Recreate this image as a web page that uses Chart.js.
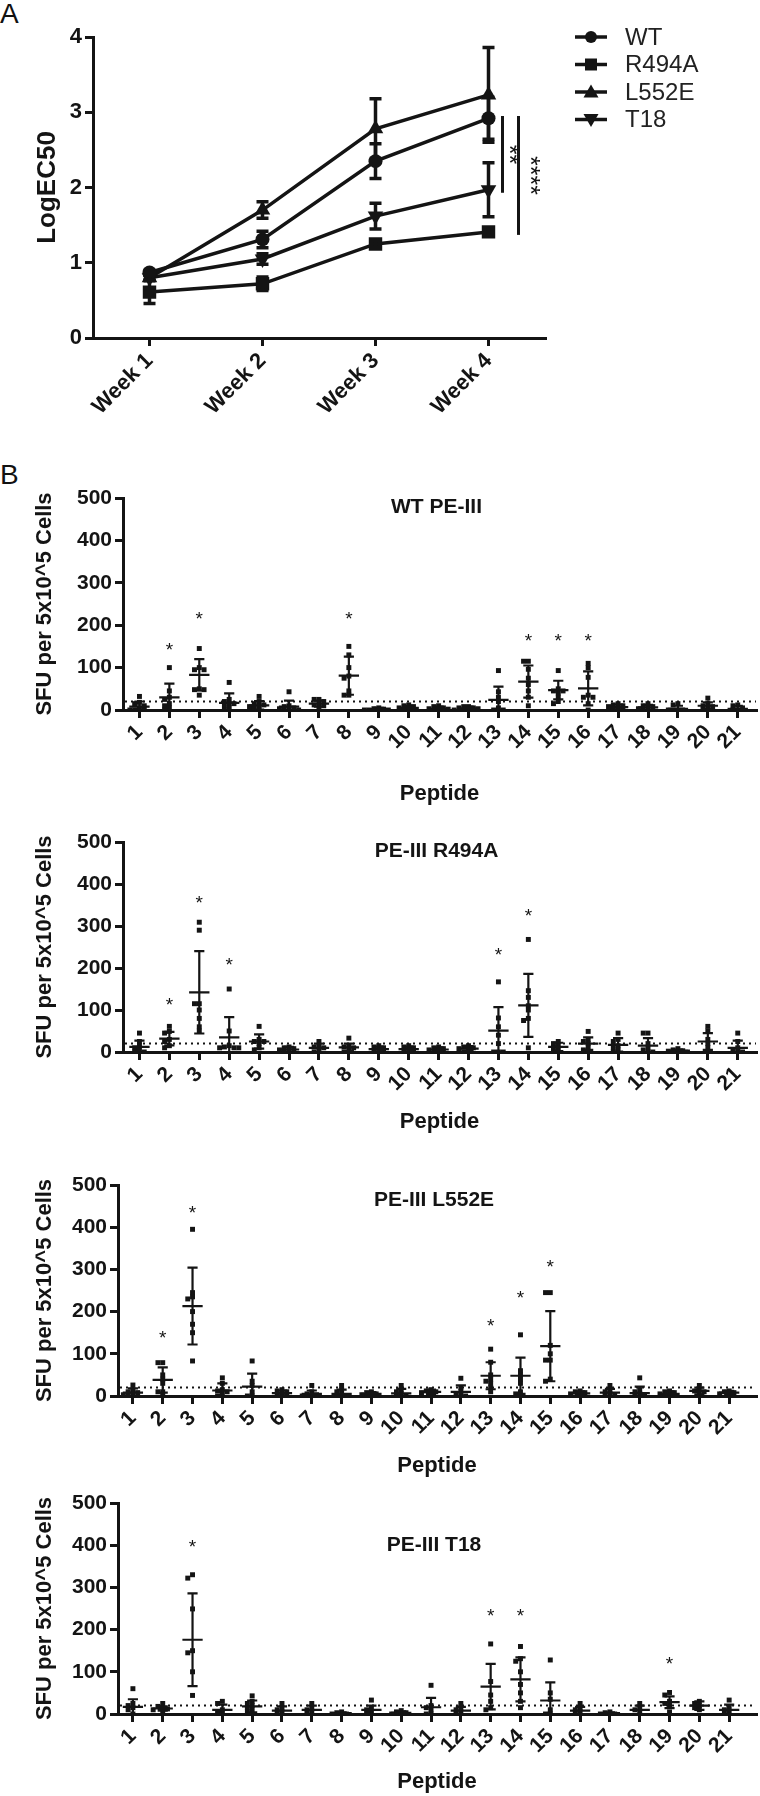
<!DOCTYPE html>
<html><head><meta charset="utf-8">
<script src="https://cdn.jsdelivr.net/npm/chart.js@4.4.1/dist/chart.umd.min.js"></script>
<style>
html,body{margin:0;padding:0;background:#fff;}
body{width:760px;height:1796px;position:relative;overflow:hidden;font-family:"Liberation Sans",Arial,Helvetica,sans-serif;}
.box{position:absolute;left:0;width:760px;}
.box canvas{display:block;}
.panel{position:absolute;font-size:28px;line-height:28px;color:#111;}
</style></head><body>
<div class="panel" style="left:0;top:0">A</div>
<div class="panel" style="left:0;top:461px">B</div>
<div class="box" id="bxA"><canvas id="cA"></canvas></div>
<div class="box" id="bxWT"><canvas id="cWT"></canvas></div>
<div class="box" id="bxR"><canvas id="cR"></canvas></div>
<div class="box" id="bxL"><canvas id="cL"></canvas></div>
<div class="box" id="bxT"><canvas id="cT"></canvas></div>
<script>
// ---------------- Panel A data ----------------
const weeks = ['Week 1','Week 2','Week 3','Week 4'];
const seriesNames = ['WT','R494A','L552E','T18'];
const wtEC50Mean    = [0.87, 1.31, 2.35, 2.92];
const wtEC50SD      = [0.03, 0.11, 0.23, 0.28];
const r494aEC50Mean = [0.61, 0.72, 1.25, 1.41];
const r494aEC50SD   = [0.15, 0.09, 0.04, 0.04];
const l552eEC50Mean = [0.80, 1.70, 2.78, 3.23];
const l552eEC50SD   = [0.03, 0.11, 0.40, 0.63];
const t18EC50Mean   = [0.80, 1.05, 1.62, 1.97];
const t18EC50SD     = [0.03, 0.07, 0.17, 0.36];
const sigTop    = [2.95, 2.95];
const sigBottom = [1.93, 1.37];
const sigLabels = ['**', '****'];

// ---------------- Panel B data ----------------
const peptides = [1,2,3,4,5,6,7,8,9,10,11,12,13,14,15,16,17,18,19,20,21];
const cutoff = 20;

const wtPoints = [
 [32,18,15,10,5,0,0,0],[100,45,30,25,15,10,5,0],[145,100,95,95,50,48,48,35],[65,25,20,15,15,10,5,0],
 [32,20,15,12,10,8,5,0],[43,10,8,5,3,0,0],[25,25,20,15,12,10,5],[150,130,100,80,75,45,35,35],
 [5,3,2,0,0,0],[12,10,8,5,3,0],[10,8,5,3,2,0],[8,8,5,5,3,0],[93,43,30,20,5,0,0],
 [115,115,96,75,60,45,30,10],[93,50,45,45,40,30,20,15],[110,100,77,35,30,30,15,0],
 [15,12,10,8,5,3,0],[15,10,8,5,3,0],[15,12,0,0,0,0],[28,15,10,8,5,0],[12,10,5,0,0]];
const wtMean = [8,30,83,17,11,8,15,81,2,5,3,4,24,67,47,51,7,6,3,10,3];
const wtSD   = [12,32,37,22,10,14,7,45,3,5,5,4,31,38,22,40,6,6,7,8,7];
const wtStarPeptides = [2,3,8,14,15,16];
const wtStarY        = [146,220,220,169,169,169];

const r494aPoints = [
 [45,25,15,10,5,0,0],[61,49,45,30,25,15,10],[309,290,115,115,100,80,60,50],[150,50,15,12,10,10,10],
 [61,30,25,25,20,10,5],[12,10,8,5,3,0],[25,15,12,10,5,0],[33,15,12,10,5,0],[15,12,10,5,3,0],
 [15,12,10,5,3,0],[12,10,8,5,3,0],[15,12,10,8,5,0],[167,81,60,40,20,0,0,0],
 [268,146,130,110,100,80,75,10],[25,20,15,10,5,0],[49,30,25,20,10,5,0],[45,30,25,15,10,5,0],
 [45,45,20,10,5,0,0],[8,5,3,2,0],[61,50,30,20,10,0],[45,25,10,5,0,0]];
const r494aMean = [12,32,142,35,25,6,10,11,7,7,6,8,51,111,12,20,17,15,3,25,10];
const r494aSD   = [15,16,98,48,17,6,10,9,6,6,5,6,56,75,10,15,16,18,3,20,17];
const r494aStarPeptides = [2,3,4,13,14];
const r494aStarY        = [118,361,213,237,328];

const l552ePoints = [
 [26,15,10,8,5,3,0],[79,79,50,40,30,10,10,0],[395,245,235,230,200,170,150,83],[43,30,15,12,10,5,0],
 [83,35,25,10,0,0],[15,12,10,5,3,0],[25,10,5,3,0,0],[25,15,10,5,0],[10,8,5,3,0],[25,15,10,5,0,0],
 [15,12,10,8,5],[42,20,10,5,0,0],[111,80,50,40,35,30,20,10],[145,60,50,40,30,10,5,0],
 [245,245,120,100,85,85,40,35],[12,10,8,5,0],[25,15,10,5,3,0],[43,15,10,5,0,0],[12,10,8,5,0],
 [25,15,12,10,5],[12,10,8,5,3]];
const l552eMean = [8,38,213,13,22,7,5,5,5,6,10,10,48,48,118,6,8,7,5,12,8];
const l552eSD   = [10,30,91,17,31,6,8,10,4,11,5,15,32,43,83,5,9,15,6,8,4];
const l552eStarPeptides = [2,3,13,14,15];
const l552eStarY        = [142,439,171,238,312];

const t18Points = [
 [60,25,20,15,10,0],[25,18,15,12,10,5],[330,322,249,150,145,100,44],[30,25,10,5,0],
 [43,30,25,20,15,10,5],[25,15,10,5,0],[25,15,10,5,0],[5,3,0,0],[33,15,10,5,0],[8,5,3,0],
 [68,20,15,10,0,0],[25,15,10,5,0],[166,77,45,30,15,10],[160,131,125,100,70,50,30,15],
 [128,50,35,10,0,0],[25,15,10,5,0],[5,3,0,0],[25,15,10,5],[51,45,30,25,20,5],[30,25,20,15,10],
 [33,15,10,5,0]];
const t18Mean = [17,13,176,10,18,8,10,2,10,3,16,8,65,82,32,8,2,10,28,20,10];
const t18SD   = [18,5,110,12,14,10,10,2,10,3,22,9,54,52,43,9,2,10,14,10,12];
const t18StarPeptides = [3,13,14,19];
const t18StarY        = [401,237,237,123];

const bTitles = ['WT PE-III','PE-III R494A','PE-III L552E','PE-III T18'];
const bTitleY = [478, 479, 464, 400];

// ---------------- Styles ----------------
const FONT = '"Liberation Sans", Arial, Helvetica, sans-serif';
const INK = '#141414';
Chart.defaults.font.family = FONT;
Chart.defaults.color = INK;
Chart.defaults.animation = false;

function setupCanvas(boxId, canvasId, top, height){
  const b = document.getElementById(boxId);
  b.style.top = top + 'px'; b.style.height = height + 'px';
  const c = document.getElementById(canvasId);
  c.width = 760; c.height = height;
  c.style.width = '760px'; c.style.height = height + 'px';
  return c;
}

// ---------------- Panel A ----------------
(function(){
  const H = 420, chartTop = 37, chartBottom = 338, axisLeft = 93, chartRight = 545;
  const canvas = setupCanvas('bxA','cA',0,H);
  const means = [wtEC50Mean, r494aEC50Mean, l552eEC50Mean, t18EC50Mean];
  const sds = [wtEC50SD, r494aEC50SD, l552eEC50SD, t18EC50SD];
  const styles = [
    {ps:'circle', r:7, rot:0, leg:'circle'},
    {ps:'rect', r:9.5, rot:0, leg:'square'},
    {ps:'triangle', r:9, rot:0, leg:'up'},
    {ps:'triangle', r:9, rot:180, leg:'down'}];
  const datasets = seriesNames.map((n,i)=>({
    label:n, data:means[i], sd:sds[i], borderColor:INK, backgroundColor:INK, borderWidth:3.5,
    pointStyle:styles[i].ps, pointRadius:styles[i].r, pointRotation:styles[i].rot,
    pointBorderWidth:0, pointBackgroundColor:INK, tension:0, fill:false
  }));
  function marker(ctx, kind, x, y){
    ctx.beginPath();
    if(kind==='circle'){ ctx.arc(x,y,6,0,Math.PI*2); }
    else if(kind==='square'){ ctx.rect(x-6,y-6,12,12); }
    else if(kind==='up'){ ctx.moveTo(x,y-7.5); ctx.lineTo(x+7.5,y+5.5); ctx.lineTo(x-7.5,y+5.5); ctx.closePath(); }
    else { ctx.moveTo(x,y+7.5); ctx.lineTo(x+7.5,y-5.5); ctx.lineTo(x-7.5,y-5.5); ctx.closePath(); }
    ctx.fill();
  }
  const extras = {id:'aExtras', afterDatasetsDraw(chart){
    const {ctx, scales:{x,y}} = chart;
    ctx.save();
    ctx.strokeStyle = INK; ctx.fillStyle = INK; ctx.lineWidth = 3.5;
    chart.data.datasets.forEach(ds=>{
      ds.data.forEach((m,i)=>{
        const s = ds.sd[i]; const px = x.getPixelForValue(i);
        const y1 = y.getPixelForValue(m+s), y0 = y.getPixelForValue(m-s);
        ctx.beginPath();
        ctx.moveTo(px,y1); ctx.lineTo(px,y0);
        ctx.moveTo(px-6,y1); ctx.lineTo(px+6,y1);
        ctx.moveTo(px-6,y0); ctx.lineTo(px+6,y0);
        ctx.stroke();
      });
    });
    // significance bars
    const lastX = x.getPixelForValue(weeks.length-1);
    sigLabels.forEach((lab,k)=>{
      const lx = lastX + 14 + k*16;
      ctx.lineWidth = 3;
      ctx.beginPath();
      ctx.moveTo(lx, y.getPixelForValue(sigTop[k]));
      ctx.lineTo(lx, y.getPixelForValue(sigBottom[k]));
      ctx.stroke();
      const ty = y.getPixelForValue((sigTop[k]+sigBottom[k])/2);
      ctx.save();
      ctx.translate(lx + (k===0?5:10), ty);
      ctx.rotate(Math.PI/2);
      ctx.font = '25px ' + FONT; ctx.textAlign='center'; ctx.textBaseline='middle';
      ctx.fillText(lab, 0, 0);
      ctx.restore();
    });
    // legend
    ctx.lineWidth = 3.5;
    ctx.font = '24px ' + FONT; ctx.textAlign='left'; ctx.textBaseline='middle';
    seriesNames.forEach((n,i)=>{
      const ly = 37 + i*27.5;
      ctx.beginPath(); ctx.moveTo(575,ly); ctx.lineTo(607,ly); ctx.stroke();
      marker(ctx, styles[i].leg, 591, ly);
      ctx.fillStyle = '#222';
      ctx.fillText(n, 625, ly+1);
      ctx.fillStyle = INK;
    });
    ctx.restore();
  }};
  new Chart(canvas, {
    type:'line',
    data:{labels:weeks, datasets},
    options:{
      responsive:false, animation:false,
      layout:{padding:{top:chartTop, right:760-chartRight, left:0, bottom:0}},
      plugins:{legend:{display:false}, tooltip:{enabled:false}},
      scales:{
        x:{type:'category', offset:true,
           grid:{drawOnChartArea:false, color:INK, lineWidth:3, tickLength:8, offset:false},
           border:{display:true, color:INK, width:3},
           ticks:{autoSkip:false, minRotation:45, maxRotation:45, padding:2, color:INK,
                  font:{family:FONT, size:22, weight:'bold'}},
           afterFit(s){ s.height = H - chartBottom; }},
        y:{min:0, max:4, ticks:{stepSize:1, padding:3, color:INK, font:{family:FONT, size:22, weight:'bold'}},
           grid:{drawOnChartArea:false, color:INK, lineWidth:3, tickLength:8},
           border:{display:true, color:INK, width:3},
           title:{display:true, text:'LogEC50', color:INK, padding:{top:32,bottom:0},
                  font:{family:FONT, size:26, weight:'bold'}},
           afterFit(s){ s.width = axisLeft; }}
      }
    },
    plugins:[extras]
  });
})();

// ---------------- Panel B ----------------
function spread(vals){
  const placed = [], out = [];
  const sorted = vals.slice().sort((a,b)=>b-a);
  const seq = [0,-1,1,-2,2,-3,3];
  sorted.forEach(v=>{
    let k = 0;
    for(const s of seq){
      if(!placed.some(q=>q.s===s && Math.abs(q.v-v)<9)){ k = s; break; }
    }
    placed.push({s:k, v}); out.push({off:k, v});
  });
  return out;
}

function makeB(cfg){
  const {boxId, canvasId, canvasTop, chartTop, chartBottom, titleCenter, axisLeft, xMin, xMax,
         points, mean, sd, starP, starY, title, titleVal} = cfg;
  const H = titleCenter + 13 - canvasTop;
  const canvas = setupCanvas(boxId, canvasId, canvasTop, H);
  const data = [];
  peptides.forEach((p,i)=>{
    spread(points[i]).forEach(o=>data.push({x:p + o.off*0.16, y:o.v}));
  });
  const extras = {id:'bExtras',
    beforeDatasetsDraw(chart){
      const {ctx, chartArea, scales:{y}} = chart;
      const yy = y.getPixelForValue(cutoff);
      ctx.save();
      ctx.strokeStyle = INK; ctx.lineWidth = 2; ctx.setLineDash([2,4]);
      ctx.beginPath(); ctx.moveTo(chartArea.left+2, yy); ctx.lineTo(chartArea.right, yy); ctx.stroke();
      ctx.restore();
    },
    afterDatasetsDraw(chart){
      const {ctx, chartArea, scales:{x,y}} = chart;
      const step = x.getPixelForValue(2) - x.getPixelForValue(1);
      const mHalf = step*0.34, cHalf = step*0.17;
      ctx.save();
      ctx.beginPath(); ctx.rect(chartArea.left, chartArea.top-20, chartArea.right-chartArea.left, chartArea.bottom-chartArea.top+20); ctx.clip();
      ctx.strokeStyle = INK; ctx.lineWidth = 2.2;
      peptides.forEach((p,i)=>{
        const px = x.getPixelForValue(p);
        const ym = y.getPixelForValue(mean[i]);
        const yh = y.getPixelForValue(mean[i]+sd[i]);
        const lo = mean[i]-sd[i];
        const yl = y.getPixelForValue(Math.max(lo,0));
        ctx.beginPath();
        ctx.moveTo(px-mHalf, ym); ctx.lineTo(px+mHalf, ym);
        ctx.moveTo(px, yh); ctx.lineTo(px, yl);
        ctx.moveTo(px-cHalf, yh); ctx.lineTo(px+cHalf, yh);
        if(lo > 0){ ctx.moveTo(px-cHalf, yl); ctx.lineTo(px+cHalf, yl); }
        ctx.stroke();
      });
      ctx.restore();
      ctx.save();
      ctx.fillStyle = INK;
      ctx.font = '19px ' + FONT; ctx.textAlign = 'center'; ctx.textBaseline = 'middle';
      starP.forEach((p,k)=>{ ctx.fillText('*', x.getPixelForValue(p), y.getPixelForValue(starY[k])+3); });
      ctx.font = 'bold 21px ' + FONT;
      ctx.fillText(title, (chartArea.left+chartArea.right)/2 - 3, y.getPixelForValue(titleVal));
      ctx.restore();
    }
  };
  new Chart(canvas, {
    type:'scatter',
    data:{datasets:[{data, pointStyle:'rect', pointRadius:3.5, pointBorderWidth:0,
                     pointBackgroundColor:INK, backgroundColor:INK, borderColor:INK, showLine:false}]},
    options:{
      responsive:false, animation:false,
      layout:{padding:{top:chartTop-canvasTop, right:0, left:0, bottom:0}},
      plugins:{legend:{display:false}, tooltip:{enabled:false}},
      scales:{
        x:{type:'linear', min:xMin, max:xMax,
           afterBuildTicks(s){ s.ticks = peptides.map(v=>({value:v})); },
           ticks:{autoSkip:false, minRotation:45, maxRotation:45, padding:2, color:INK,
                  font:{family:FONT, size:21, weight:'bold'}, callback:(v)=>String(v)},
           grid:{drawOnChartArea:false, color:INK, lineWidth:3, tickLength:8},
           border:{display:true, color:INK, width:3},
           title:{display:true, text:'Peptide', color:INK, padding:{top:0,bottom:0},
                  font:{family:FONT, size:22, weight:'bold'}},
           afterFit(s){ s.height = H - (chartBottom - canvasTop); }},
        y:{min:0, max:500,
           ticks:{stepSize:100, padding:3, color:INK, font:{family:FONT, size:21, weight:'bold'}},
           grid:{drawOnChartArea:false, color:INK, lineWidth:3, tickLength:8},
           border:{display:true, color:INK, width:3},
           title:{display:true, text:'SFU per 5x10^5 Cells', color:INK, padding:{top:32,bottom:0},
                  font:{family:FONT, size:22, weight:'bold'}},
           afterFit(s){ s.width = axisLeft; }}
      }
    },
    plugins:[extras]
  });
}

makeB({boxId:'bxWT', canvasId:'cWT', canvasTop:470, chartTop:498, chartBottom:710, titleCenter:794,
       axisLeft:123, xMin:0.45, xMax:21.61, points:wtPoints, mean:wtMean, sd:wtSD,
       starP:wtStarPeptides, starY:wtStarY, title:bTitles[0], titleVal:bTitleY[0]});
makeB({boxId:'bxR', canvasId:'cR', canvasTop:814, chartTop:842, chartBottom:1052, titleCenter:1122,
       axisLeft:123, xMin:0.45, xMax:21.61, points:r494aPoints, mean:r494aMean, sd:r494aSD,
       starP:r494aStarPeptides, starY:r494aStarY, title:bTitles[1], titleVal:bTitleY[1]});
makeB({boxId:'bxL', canvasId:'cL', canvasTop:1157, chartTop:1185, chartBottom:1396, titleCenter:1466,
       axisLeft:118, xMin:0.5, xMax:21.9, points:l552ePoints, mean:l552eMean, sd:l552eSD,
       starP:l552eStarPeptides, starY:l552eStarY, title:bTitles[2], titleVal:bTitleY[2]});
makeB({boxId:'bxT', canvasId:'cT', canvasTop:1478, chartTop:1503, chartBottom:1714, titleCenter:1782,
       axisLeft:118, xMin:0.5, xMax:21.9, points:t18Points, mean:t18Mean, sd:t18SD,
       starP:t18StarPeptides, starY:t18StarY, title:bTitles[3], titleVal:bTitleY[3]});
</script>
</body></html>
